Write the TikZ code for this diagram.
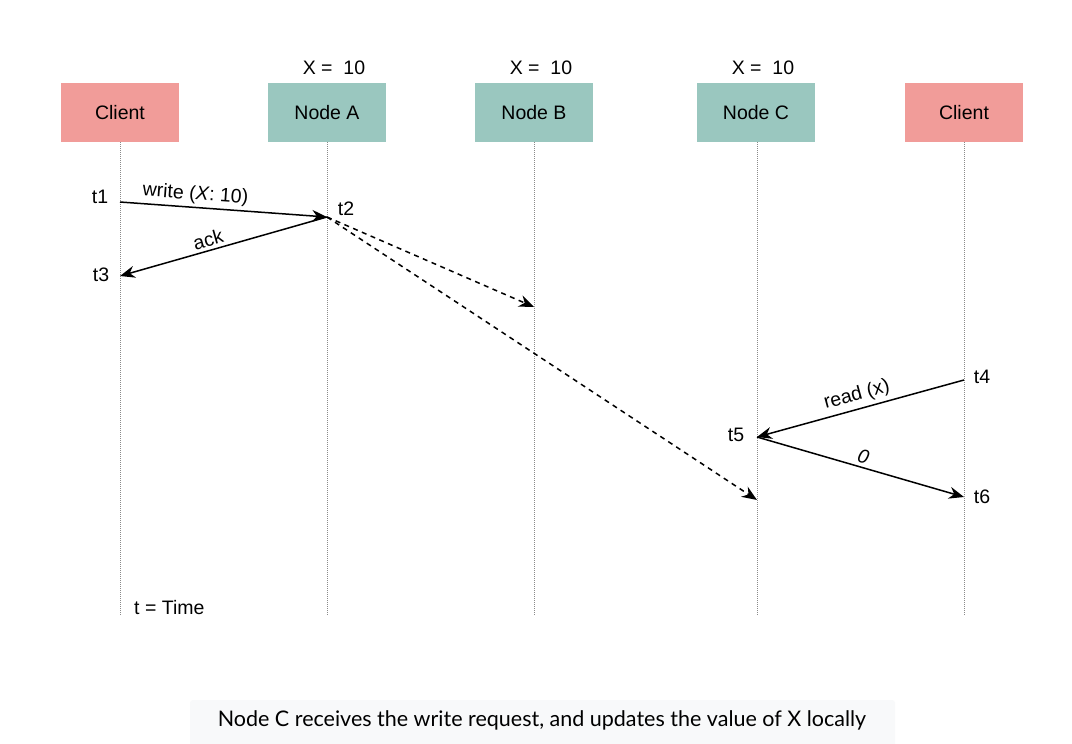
\documentclass[tikz,border=0pt]{standalone}
\usepackage{fontspec}
\setmainfont{Liberation Sans}
\newfontfamily\capfont{Lato}
\usetikzlibrary{arrows.meta}
\definecolor{clientred}{HTML}{F19C99}
\definecolor{nodegreen}{HTML}{9AC7BF}
\definecolor{capbg}{HTML}{F8F9FA}
\definecolor{lifegray}{HTML}{8A8A8A}
\begin{document}
\begin{tikzpicture}[x=1pt,y=-1pt,
  every node/.style={font=\fontsize{19.5}{23}\selectfont, inner sep=0pt},
  actor/.style={minimum width=118pt, minimum height=59pt, draw=none},
  clientbox/.style={actor, fill=clientred},
  nodebox/.style={actor, fill=nodegreen},
  lifeline/.style={draw=lifegray, line width=1pt, dash pattern=on 1pt off 1pt},
  msg/.style={draw=black, line width=1.5pt, -{Stealth[length=15pt,width=12pt]}},
  dmsg/.style={msg, dash pattern=on 5pt off 4.5pt},
  tlabel/.style={anchor=center},
  mlabel/.style={sloped, above, inner sep=2pt}
]
\useasboundingbox (0,0) rectangle (1072,744);
\fill[white] (0,0) rectangle (1072,744);

% actor boxes
\node[clientbox] (c1) at (120,112.5) {Client};
\node[nodebox]   (na) at (327,112.5) {Node A};
\node[nodebox]   (nb) at (534,112.5) {Node B};
\node[nodebox]   (nc) at (756,112.5) {Node C};
\node[clientbox] (c2) at (964,112.5) {Client};

% values
\node (va) at (334,68) {X =\ \ 10};
\node (vb) at (541,68) {X =\ \ 10};
\node (vc) at (763,68) {X =\ \ 10};

% lifeline ends
\coordinate (e1) at (120,615);
\coordinate (ea) at (327,615);
\coordinate (eb) at (534,615);
\coordinate (ec) at (757,615);
\coordinate (e2) at (964,615);
\draw[lifeline] (c1.south) -- (e1);
\draw[lifeline] (na.south) -- (ea);
\draw[lifeline] (nb.south) -- (eb);
\draw[lifeline] ([xshift=1pt]nc.south) -- (ec);
\draw[lifeline] (c2.south) -- (e2);

% event points
\coordinate (p1) at (120,202);
\coordinate (p2) at (327,217);
\coordinate (p3) at (120,276);
\coordinate (pb) at (534,307);
\coordinate (pc) at (757,500);
\coordinate (p4) at (964,380);
\coordinate (p5) at (757,437);
\coordinate (p6) at (964,497);

% messages
\draw[msg] (p1) -- node[mlabel, pos=0.36, inner sep=3pt] (lw) {write (\textit{X}: 10)} (p2);
\draw[msg] (p2) -- node[mlabel, pos=0.56, inner sep=3pt] (lack) {ack} (p3);
\draw[dmsg] (p2) -- (pb);
\draw[dmsg] (p2) -- (pc);
\draw[msg] (p4) -- node[mlabel, pos=0.5, inner sep=4pt] (lr) {read (x)} (p5);
\draw[msg] (p5) -- node[mlabel, pos=0.5, inner sep=3pt] (l0) {\textit{0}} (p6);

% time labels
\node[tlabel] (t1) at (100,197) {t1};
\node[tlabel] (t2) at (346,209) {t2};
\node[tlabel] (t3) at (101,275) {t3};
\node[tlabel] (t4) at (982,377) {t4};
\node[tlabel] (t5) at (736,435) {t5};
\node[tlabel] (t6) at (982,497) {t6};
\node[anchor=west] (tt) at (134,608) {t = Time};

% caption
\fill[capbg, rounded corners=3pt] (190,700) rectangle (895,748);
\node[font=\capfont\fontsize{21.5}{25}\selectfont] (cap) at (542,720) {Node C receives the write request, and updates the value of X locally};
\end{tikzpicture}
\end{document}
